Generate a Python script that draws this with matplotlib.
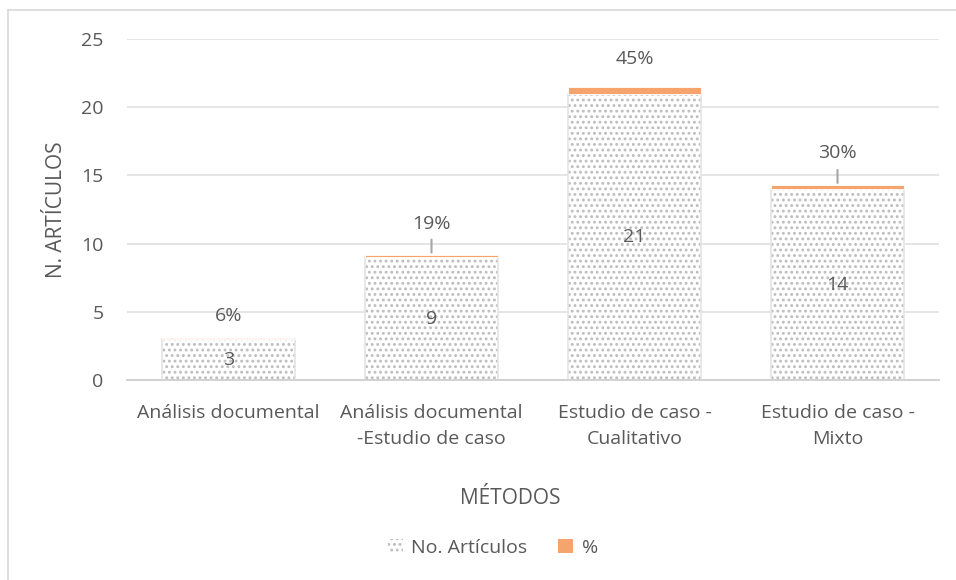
import matplotlib.pyplot as plt
from matplotlib.patches import Patch
from matplotlib.lines import Line2D

plt.rcParams['font.family'] = ['Open Sans', 'DejaVu Sans']
plt.rcParams['hatch.linewidth'] = 1.3

# data
metodos = ['Análisis documental', 'Análisis documental\n-Estudio de caso',
           'Estudio de caso -\nCualitativo', 'Estudio de caso -\nMixto']
articulos = [3, 9, 21, 14]
porcentaje = [0.064, 0.191, 0.447, 0.298]
pct_labels = ['6%', '19%', '45%', '30%']

txt = '#595959'
orange = '#f4a46c'
dots = '#bdbdbd'

fig = plt.figure(figsize=(9.56, 5.8), dpi=100)
ax = fig.add_axes([127 / 956, 200 / 580, 812 / 956, 341 / 580])

x = list(range(len(metodos)))
w = 0.66
# dotted fill, then a light outline on top
ax.bar(x, articulos, w, color='white', edgecolor=dots, hatch='...',
       linewidth=0, zorder=2)
ax.bar(x, articulos, w, fill=False, edgecolor='#e4e4e4', linewidth=1.2, zorder=2)
ax.bar(x, porcentaje, w, bottom=articulos, color=orange, edgecolor='white',
       linewidth=0.6, zorder=3)

for i in x:
    ax.text(i, articulos[i] / 2, str(articulos[i]), ha='center', va='center',
            fontsize=14, color=txt, zorder=4)

# percent labels above the bars (offset in pixels)
offs = [22, 31, 28, 32]
leaders = [False, True, False, True]
for i in x:
    top = articulos[i] + porcentaje[i]
    ax.annotate(pct_labels[i], (i, top), xytext=(0, offs[i] * 0.72),
                textcoords='offset points', ha='center', va='center',
                fontsize=14, color=txt, zorder=4)
    if leaders[i]:
        ax.annotate('', (i, top), xytext=(0, 15 * 0.72), textcoords='offset points',
                    arrowprops=dict(arrowstyle='-', color='#a6a6a6', lw=1.5,
                                    shrinkA=0, shrinkB=1.5))

ax.set_ylim(0, 25)
ax.set_xlim(-0.5, 3.5)
ax.set_yticks(range(0, 26, 5))
ax.set_xticks(x)
ax.set_xticklabels(metodos, fontsize=14, color=txt, linespacing=1.55)
ax.tick_params(axis='y', labelsize=14, colors=txt, length=0, pad=17)
ax.tick_params(axis='x', length=0, pad=17.5)
ax.grid(axis='y', color='#e0e0e0', lw=1.2, zorder=0)
for s in ['top', 'right', 'left']:
    ax.spines[s].set_visible(False)
ax.spines['bottom'].set_color('#cfcfcf')
ax.spines['bottom'].set_linewidth(1.3)

fig.text(56 / 956, 1 - 210 / 580, 'N. ARTÍCULOS', rotation=90, ha='center',
         va='center', fontsize=15, color=txt)
fig.text(510 / 956, 1 - 499 / 580, 'MÉTODOS', ha='center', va='center',
         fontsize=15, color=txt)

handles = [Patch(facecolor='white', edgecolor=dots, hatch='...', linewidth=0),
           Patch(facecolor=orange, edgecolor='none')]
fig.legend(handles, ['No. Artículos', '%'], loc='center',
           bbox_to_anchor=(493 / 956, 1 - 548 / 580), ncol=2, frameon=False,
           fontsize=14, handlelength=0.75, handleheight=0.75,
           columnspacing=1.6, handletextpad=0.45, labelcolor=txt)

# chart area border (only left and top show in the crop)
fig.add_artist(Line2D([8 / 956, 8 / 956], [0, 1 - 10 / 580], color='#d9d9d9', lw=1.2))
fig.add_artist(Line2D([8 / 956, 1], [1 - 10 / 580, 1 - 10 / 580], color='#d9d9d9', lw=1.2))

fig.savefig('out.png', dpi=100)
